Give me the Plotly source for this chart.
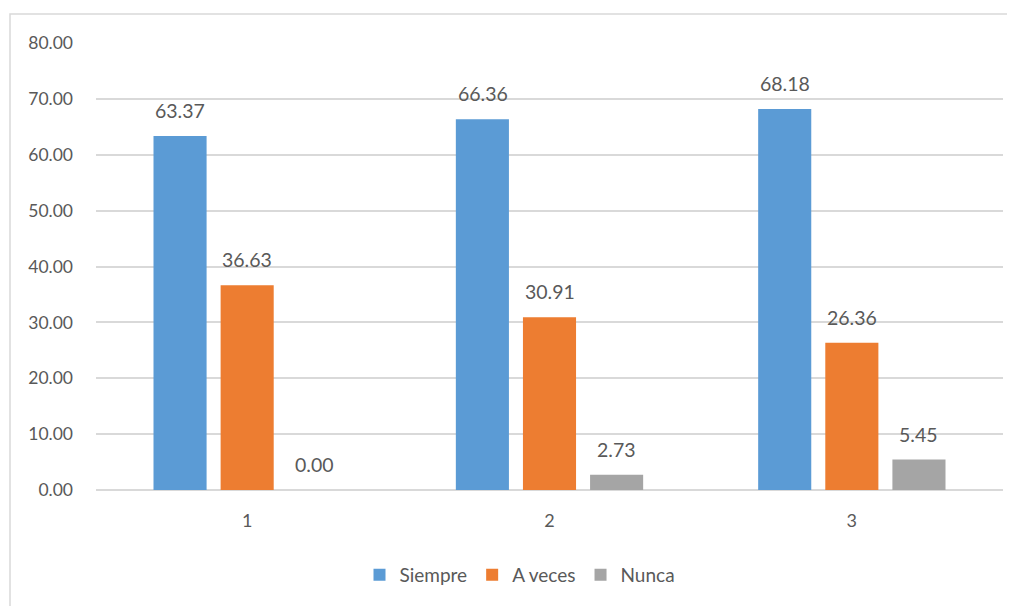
import plotly.graph_objects as go

categories = ["1", "2", "3"]
siempre = [63.37, 66.36, 68.18]
a_veces = [36.63, 30.91, 26.36]
nunca = [0.00, 2.73, 5.45]
series_names = ["Siempre", "A veces", "Nunca"]
colors = ["#5B9BD5", "#ED7D31", "#A5A5A5"]
y_ticks = [0, 10, 20, 30, 40, 50, 60, 70, 80]

OFF = 8  # page body offset
W, H = 1015 - OFF, 606 - OFF
ml, mt = 96 - OFF, 43 - OFF
mr = W - (1003 - OFF)
mb = H - (490 - OFF)
pw = W - ml - mr
ph = H - mt - mb

font_family = "Lato, 'Open Sans', sans-serif"
txt_color = "#595959"

fig = go.Figure()
all_vals = [siempre, a_veces, nunca]
for name, vals, col in zip(series_names, all_vals, colors):
    fig.add_trace(go.Bar(
        x=categories, y=vals, name=name, marker=dict(color=col, line=dict(width=0)),
    ))

# value labels (x given as category index on the category axis)
slot = 67
annotations = []
for i, vals in enumerate(all_vals):
    for j, v in enumerate(vals):
        annotations.append(dict(
            x=j, y=v, xref="x", yref="y", text=f"{v:.2f}", showarrow=False,
            xanchor="center", yanchor="bottom", xshift=(i - 1) * slot, yshift=12,
            font=dict(size=19.5, color=txt_color, family=font_family)))

fig.update_layout(
    width=W, height=H,
    margin=dict(l=ml, r=mr, t=mt, b=mb),
    paper_bgcolor="white", plot_bgcolor="white",
    barmode="group", bargap=0.334, bargroupgap=0.209,
    font=dict(family=font_family, color=txt_color, size=17),
    showlegend=True,
    legend=dict(orientation="h", x=(520 - OFF - ml) / pw, xanchor="center",
                y=-(575 - 490) / ph, yanchor="middle",
                font=dict(size=19, color=txt_color), itemsizing="constant",
                traceorder="normal", itemwidth=30),
    xaxis=dict(type="category", showgrid=False, showline=False, ticks="",
               tickfont=dict(size=18, color=txt_color), ticklabelstandoff=18),
    yaxis=dict(range=[0, 80], tickvals=y_ticks, tickformat=".2f", showgrid=True,
               gridcolor="#D9D9D9", gridwidth=1.5, zeroline=True, zerolinecolor="#D9D9D9",
               zerolinewidth=1.5, showline=False, ticks="", ticklabelstandoff=22,
               tickfont=dict(size=17.5, color=txt_color)),
    annotations=annotations,
    shapes=[dict(type="rect", xref="paper", yref="paper",
                 x0=(10 - OFF - ml) / pw, x1=(W + 20 - ml) / pw,
                 y0=-(H + 20 - (mt + ph)) / ph, y1=(mt + ph - (14 - OFF)) / ph,
                 line=dict(color="#D9D9D9", width=1.5), layer="below")],
)

fig.write_html("out.html")
